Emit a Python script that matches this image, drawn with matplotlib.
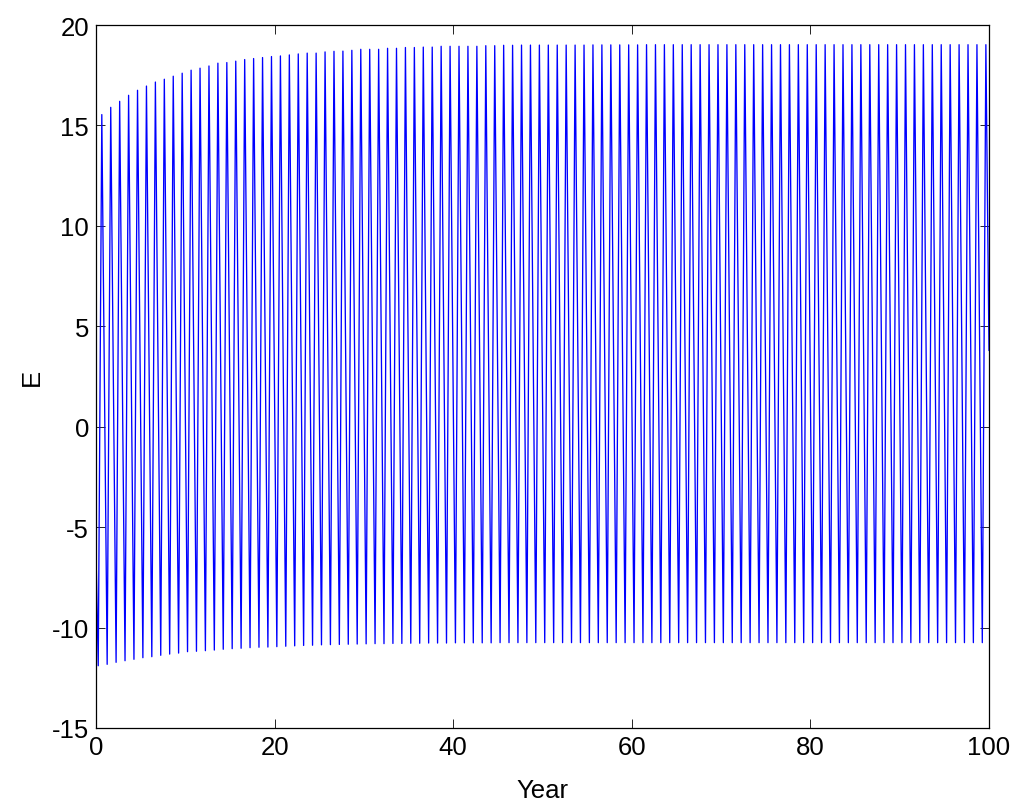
import numpy as np
import matplotlib
matplotlib.use("Agg")
import matplotlib.pyplot as plt

# ---- data ----
# one oscillation per year: trough then peak within each year
cycle_year = np.arange(100)          # year index of each cycle (0..99)
trough_offset = 0.25                  # trough position within the year
peak_offset = 0.65                    # peak position within the year

peak_E = [
    15.54, 15.90, 16.20, 16.50, 16.75, 16.96, 17.16, 17.30, 17.45, 17.60,
    17.75, 17.85, 17.96, 18.10, 18.13, 18.20, 18.28, 18.33, 18.38, 18.43,
    18.46, 18.51, 18.56, 18.60, 18.60, 18.66, 18.69, 18.70, 18.74, 18.79,
    18.79, 18.79, 18.84, 18.84, 18.88, 18.88, 18.90, 18.90, 18.94, 18.94,
    18.94, 18.94, 18.94, 18.97, 18.97, 18.99, 18.99, 19.00, 19.00, 19.00,
    19.00, 19.00, 19.00, 19.00, 19.00, 19.01, 19.01, 19.01, 19.01, 19.01,
    19.01, 19.02, 19.02, 19.02, 19.02, 19.02, 19.02, 19.02, 19.02, 19.02,
    19.02, 19.02, 19.02, 19.02, 19.02, 19.02, 19.02, 19.02, 19.02, 19.02,
    19.02, 19.02, 19.02, 19.02, 19.02, 19.02, 19.02, 19.02, 19.02, 19.02,
    19.02, 19.02, 19.02, 19.02, 19.02, 19.02, 19.02, 19.02, 19.02, 19.02,
]
trough_E = [
    -11.90, -11.83, -11.73, -11.65, -11.58, -11.50, -11.45, -11.38, -11.32, -11.27,
    -11.20, -11.18, -11.15, -11.12, -11.08, -11.05, -11.03, -11.00, -10.98, -10.97,
    -10.95, -10.93, -10.91, -10.89, -10.88, -10.86, -10.85, -10.84, -10.83, -10.82,
    -10.81, -10.80, -10.80, -10.79, -10.79, -10.78, -10.78, -10.77, -10.77, -10.77,
    -10.76, -10.76, -10.76, -10.76, -10.76, -10.75, -10.75, -10.75, -10.75, -10.75,
    -10.75, -10.75, -10.75, -10.75, -10.75, -10.75, -10.75, -10.75, -10.75, -10.75,
    -10.75, -10.75, -10.75, -10.75, -10.75, -10.75, -10.75, -10.75, -10.75, -10.75,
    -10.75, -10.75, -10.75, -10.75, -10.75, -10.75, -10.75, -10.75, -10.75, -10.75,
    -10.75, -10.75, -10.75, -10.75, -10.75, -10.75, -10.75, -10.75, -10.75, -10.75,
    -10.75, -10.75, -10.75, -10.75, -10.75, -10.75, -10.75, -10.75, -10.75, -10.75,
]
start_year, start_E = 0.0, -6.3
end_year, end_E = 100.0, 3.8

x_ticks = [0, 20, 40, 60, 80, 100]
y_ticks = [-15, -10, -5, 0, 5, 10, 15, 20]

# ---- assemble the series ----
xs = [start_year]
ys = [start_E]
for k, lo, hi in zip(cycle_year, trough_E, peak_E):
    xs += [k + trough_offset, k + peak_offset]
    ys += [lo, hi]
xs.append(end_year)
ys.append(end_E)

plt.rcParams['font.family'] = ['Liberation Sans', 'DejaVu Sans']

fig = plt.figure(figsize=(10.16, 8.03), dpi=100)
ax = fig.add_axes([96/1016, 1 - 729/803, (989-96)/1016, (729-26)/803])
ax.plot(xs, ys, color='#0000ff', linewidth=0.95)

ax.set_xlim(0, 100)
ax.set_ylim(-15, 20)
ax.set_xticks(x_ticks)
ax.set_yticks(y_ticks)
ax.set_xticklabels([str(v) for v in x_ticks])
ax.set_yticklabels([str(v) for v in y_ticks])
ax.tick_params(direction='in', length=6.5, width=0.6, labelsize=18.5,
               top=True, right=True, colors='black', pad=5)
for s in ax.spines.values():
    s.set_linewidth(0.9)
    s.set_color('black')
ax.set_xlabel('Year', fontsize=18.5, labelpad=14)
ax.set_ylabel('E', fontsize=18.5, labelpad=6)

fig.savefig('out.png', dpi=100)
